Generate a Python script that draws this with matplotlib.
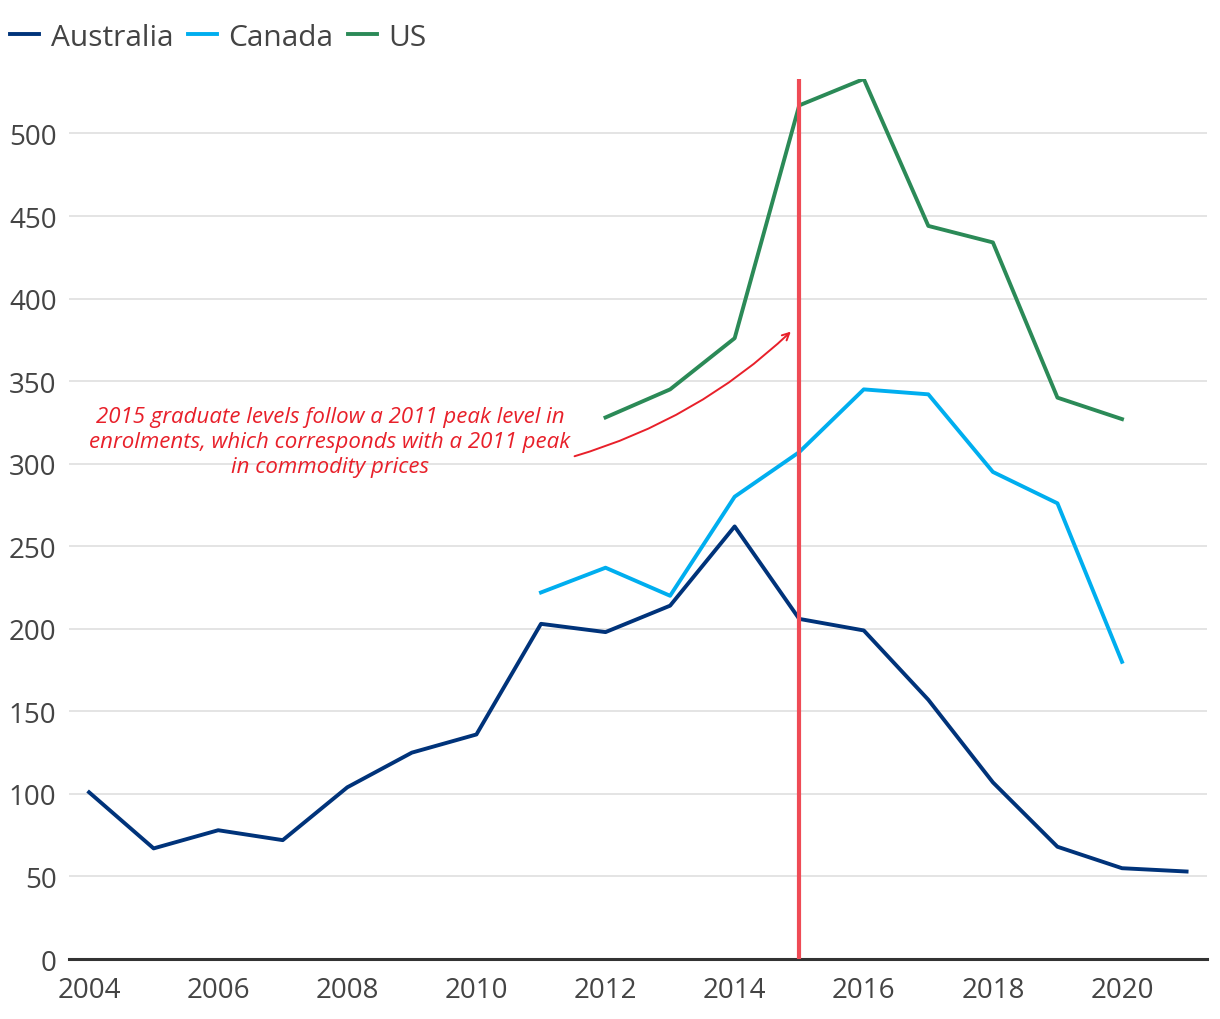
import matplotlib.pyplot as plt

# -------------------------------
# Data
# -------------------------------
aus_years = list(range(2004, 2022))
aus_values = [101, 67, 78, 72, 104, 125, 136, 203, 198, 214, 262, 206, 199, 157, 107, 68, 55, 53]

can_years = list(range(2011, 2021))
can_values = [222, 237, 220, 280, 307, 345, 342, 295, 276, 180]

us_years = list(range(2012, 2021))
us_values = [328, 345, 376, 517, 533, 444, 434, 340, 327]

x_ticks = [2004, 2006, 2008, 2010, 2012, 2014, 2016, 2018, 2020]
y_ticks = [0, 50, 100, 150, 200, 250, 300, 350, 400, 450, 500]

note = ("2015 graduate levels follow a 2011 peak level in\n"
        "enrolments, which corresponds with a 2011 peak\n"
        "in commodity prices")

plt.rcParams['font.family'] = ['Open Sans', 'DejaVu Sans']

# -------------------------------
# Plot
# -------------------------------
fig = plt.figure(figsize=(12.2, 10.2), dpi=100)
ax = fig.add_axes([0.0566, 0.0588, 0.9324, 0.8628])

ax.plot(aus_years, aus_values, color='#00337a', lw=2.8, label='Australia', zorder=3)
ax.plot(can_years, can_values, color='#00aeef', lw=2.8, label='Canada', zorder=3)
ax.plot(us_years, us_values, color='#2b8a57', lw=2.8, label='US', zorder=3)

ax.axvline(2015, color='#ef4b55', lw=3, zorder=4)

ax.set_xlim(2003.69, 2021.31)
ax.set_ylim(0, 533)
ax.set_xticks(x_ticks)
ax.set_yticks(y_ticks)
ax.grid(axis='y', color='#e2e2e2', lw=1.3)
ax.set_axisbelow(True)

for s in ['top', 'right', 'left']:
    ax.spines[s].set_visible(False)
ax.spines['bottom'].set_color('#333333')
ax.spines['bottom'].set_linewidth(2.2)
ax.tick_params(axis='both', length=0, labelsize=20, labelcolor='#444444')
ax.tick_params(axis='x', pad=12)
ax.tick_params(axis='y', pad=9)

# annotation text and curved arrow
ax.text(2007.73, 313.5, note, ha='center', va='center', multialignment='center',
        fontsize=16, style='italic', color='#e8202a', linespacing=1.25)
ax.annotate('', xy=(2014.87, 380), xytext=(2011.52, 304.5),
            arrowprops=dict(arrowstyle='->,head_length=0.5,head_width=0.25',
                            color='#e8202a', lw=1.4,
                            connectionstyle='arc3,rad=0.12',
                            shrinkA=0, shrinkB=0))

fig.legend(loc='upper left', bbox_to_anchor=(-0.0135, 1.003), ncol=3, frameon=False,
           fontsize=21.5, handlelength=0.95, handletextpad=0.4, columnspacing=0.5,
           labelcolor='#444444')

plt.savefig('out.png', dpi=100)
